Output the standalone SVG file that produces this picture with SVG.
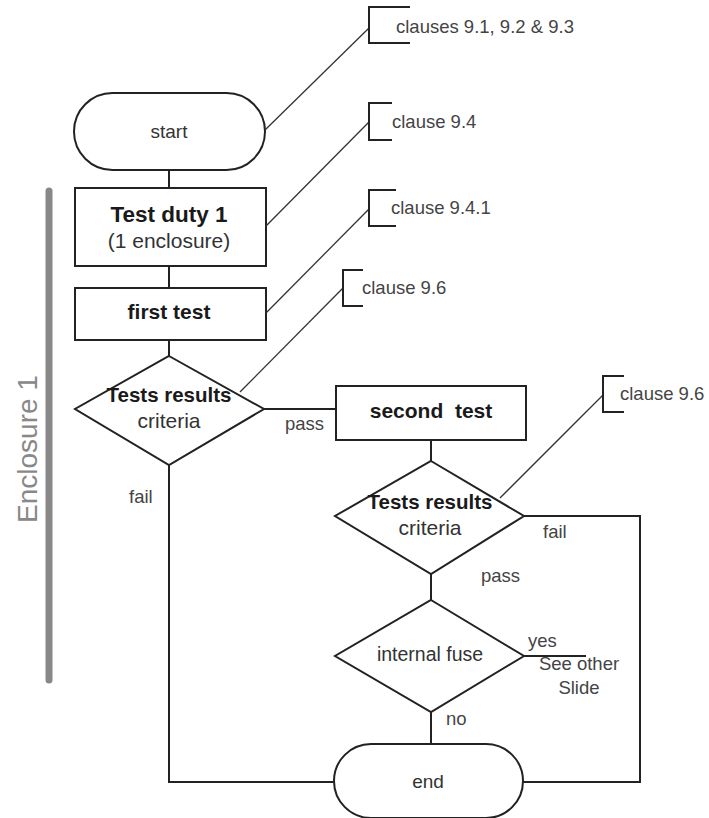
<svg xmlns="http://www.w3.org/2000/svg" width="709" height="818" viewBox="0 0 709 818">
<style>
.shape{fill:#fff;stroke:#222;stroke-width:2}
.conn{fill:none;stroke:#222;stroke-width:2}
.lead{fill:none;stroke:#333;stroke-width:1.3}
.br{fill:none;stroke:#222;stroke-width:2}
.nb{font-family:"Liberation Sans",Arial,sans-serif;font-weight:bold;fill:#1a1a1a;text-anchor:middle;white-space:pre}
.nr{font-family:"Liberation Sans",Arial,sans-serif;fill:#333;text-anchor:middle}
.lbl{font-family:"Liberation Sans",Arial,sans-serif;font-size:18.5px;fill:#444}
</style>
<rect width="709" height="818" fill="#fff"/>
<g id="connectors">
<line class="conn" x1="169" y1="170" x2="169" y2="188"/>
<line class="conn" x1="169" y1="266" x2="169" y2="288"/>
<line class="conn" x1="169" y1="340" x2="169" y2="356"/>
<line class="conn" x1="264" y1="409" x2="336" y2="409"/>
<polyline class="conn" points="169,465 169,782 334,782"/>
<line class="conn" x1="431" y1="440" x2="431" y2="461"/>
<polyline class="conn" points="524,516 640,516 640,782 523,782"/>
<line class="conn" x1="431" y1="574" x2="431" y2="600"/>
<line class="conn" x1="524" y1="656" x2="586" y2="656"/>
<line class="conn" x1="431" y1="712" x2="431" y2="744"/>
<text class="lbl" x="285" y="430">pass</text>
<text class="lbl" x="129" y="503">fail</text>
<text class="lbl" x="543" y="538">fail</text>
<text class="lbl" x="481" y="582">pass</text>
<text class="lbl" x="528" y="647">yes</text>
<text class="lbl" x="446" y="725">no</text>
</g>
<g id="enclosure">
<line x1="49" y1="191" x2="49" y2="680" stroke="#888" stroke-width="7" stroke-linecap="round"/>
<text x="0" y="0" transform="translate(37,449) rotate(-90)" font-family="'Liberation Sans',Arial,sans-serif" font-size="28" fill="#888" text-anchor="middle">Enclosure 1</text>
</g>
<g id="start">
<rect class="shape" x="74" y="93" width="191" height="77" rx="38.5"/>
<text class="nr" x="169" y="138" font-size="19">start</text>
</g>
<g id="test-duty">
<rect class="shape" x="75" y="188" width="191" height="78"/>
<text class="nb" x="169" y="222" font-size="22.5">Test duty 1</text>
<text class="nr" x="169" y="248" font-size="21">(1 enclosure)</text>
</g>
<g id="first-test">
<rect class="shape" x="75" y="288" width="191" height="52"/>
<text class="nb" x="169" y="319" font-size="21">first test</text>
</g>
<g id="decision1">
<polygon class="shape" points="169,356 264,409 169,465 75,409"/>
<text class="nb" x="169" y="402" font-size="20.5">Tests results</text>
<text class="nr" x="169" y="428" font-size="21">criteria</text>
</g>
<g id="second-test">
<rect class="shape" x="336" y="386" width="190" height="54"/>
<text class="nb" x="431" y="418" font-size="21">second  test</text>
</g>
<g id="decision2">
<polygon class="shape" points="431,461 524,516 431,574 335,516"/>
<text class="nb" x="430" y="509" font-size="20.5">Tests results</text>
<text class="nr" x="430" y="535" font-size="21">criteria</text>
</g>
<g id="decision3">
<polygon class="shape" points="431,600 524,656 431,712 335,656"/>
<text class="nr" x="430" y="661" font-size="19.5">internal fuse</text>
</g>
<g id="see-other">
<text class="lbl" x="579" y="670" text-anchor="middle">See other</text>
<text class="lbl" x="579" y="694" text-anchor="middle">Slide</text>
</g>
<g id="end">
<rect class="shape" x="334" y="744" width="189" height="74" rx="37"/>
<text class="nr" x="428" y="788" font-size="19">end</text>
</g>
<g id="note-clauses-9-1">
<line class="lead" x1="265" y1="130" x2="369" y2="28"/>
<polyline class="br" points="410,7 369,7 369,43 410,43"/>
<text class="lbl" x="396" y="33">clauses 9.1, 9.2 &amp; 9.3</text>
</g>
<g id="note-clause-9-4">
<line class="lead" x1="266" y1="226" x2="369" y2="122"/>
<polyline class="br" points="392,103 369,103 369,140 392,140"/>
<text class="lbl" x="392" y="128">clause 9.4</text>
</g>
<g id="note-clause-9-4-1">
<line class="lead" x1="266" y1="313" x2="369" y2="209"/>
<polyline class="br" points="396,190 369,190 369,226 396,226"/>
<text class="lbl" x="391" y="214">clause 9.4.1</text>
</g>
<g id="note-clause-9-6a">
<line class="lead" x1="240" y1="392" x2="343" y2="288"/>
<polyline class="br" points="363,270 343,270 343,306 363,306"/>
<text class="lbl" x="362" y="294">clause 9.6</text>
</g>
<g id="note-clause-9-6b">
<line class="lead" x1="500" y1="498" x2="603" y2="395"/>
<polyline class="br" points="624,376 603,376 603,412 624,412"/>
<text class="lbl" x="620" y="400">clause 9.6</text>
</g>
</svg>
